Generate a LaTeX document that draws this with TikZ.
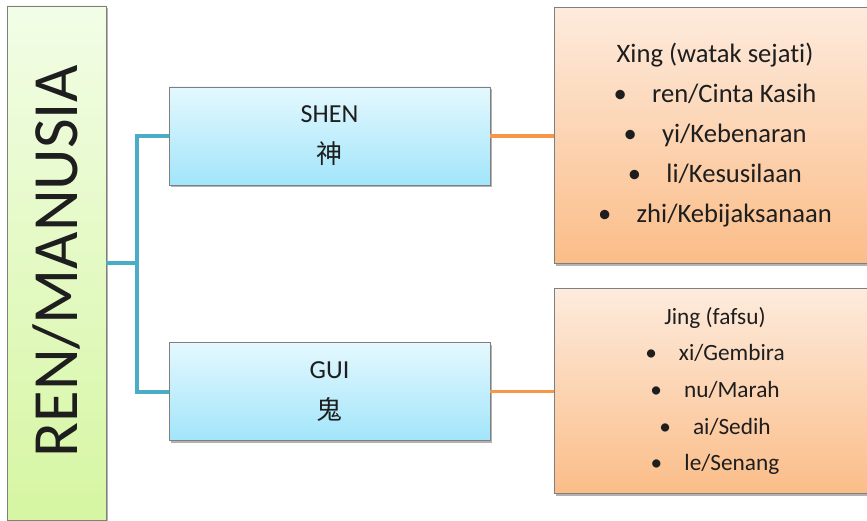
\documentclass[tikz,border=0pt]{standalone}
\usepackage{fontspec}
\setmainfont{Carlito}[Ligatures=NoCommon]
\newfontfamily\cjk{Noto Sans CJK SC}
\usetikzlibrary{shadows}

\definecolor{boxedge}{HTML}{7F7F7F}
\definecolor{txt}{HTML}{1E1E1E}
\definecolor{greentop}{HTML}{F2FDE6}
\definecolor{greenbot}{HTML}{D6F6A2}
\definecolor{bluetop}{HTML}{E4F8FE}
\definecolor{bluebot}{HTML}{A2E5FA}
\definecolor{orangetop}{HTML}{FDEBDD}
\definecolor{orangebot}{HTML}{FBBD88}
\definecolor{linkblue}{HTML}{4BACC6}
\definecolor{linkorange}{HTML}{F79646}

\begin{document}
\begin{tikzpicture}[x=1pt,y=-1pt,
  box/.style={draw=boxedge, line width=0.8pt, inner sep=0pt, text=txt,
    drop shadow={shadow xshift=2pt, shadow yshift=-2.5pt, opacity=0.3, fill=black}},
  greenbox/.style={box, top color=greentop, bottom color=greenbot},
  bluebox/.style={box, top color=bluetop, bottom color=bluebot,
    minimum width=321pt, minimum height=98pt, align=center,
    font=\fontsize{26}{41}\selectfont},
  orangebox/.style={box, top color=orangetop, bottom color=orangebot,
    minimum width=322pt, align=center},
  bluelink/.style={draw=linkblue, line width=4pt},
  orangelink/.style={draw=linkorange, line width=3.5pt},
]
\useasboundingbox (0,0) rectangle (867,521);

% left column
\node[greenbox, minimum width=99pt, minimum height=514pt] (ren) at (56.5,263) {};
\node[rotate=90, anchor=base, text=txt, font=\fontsize{64.5}{64.5}\selectfont]
  (renlabel) at (77,261.5) {REN/MANUSIA};

% middle column
\node[bluebox] (shen) at (329.5,136) {SHEN\\{\cjk 神}};
\node[bluebox] (gui) at (329.5,391.5) {GUI\\{\cjk 鬼}};

% right column
\node[orangebox, minimum height=256pt, font=\fontsize{26.6}{40}\selectfont]
  (xing) at (715,135.5)
  {Xing (watak sejati)\\
   •\hspace{0.95em}ren/Cinta Kasih\\
   •\hspace{0.95em}yi/Kebenaran\\
   •\hspace{0.95em}li/Kesusilaan\\
   •\hspace{0.95em}zhi/Kebijaksanaan};
\node[orangebox, minimum height=205pt, font=\fontsize{23.3}{36.7}\selectfont]
  (jing) at (715,391)
  {Jing (fafsu)\\
   •\hspace{0.95em}xi/Gembira\\
   •\hspace{0.95em}nu/Marah\\
   •\hspace{0.95em}ai/Sedih\\
   •\hspace{0.95em}le/Senang};

% connectors
\coordinate (fork) at ([xshift=31pt]ren.east);
\draw[bluelink] (ren.east) -- (fork);
\draw[bluelink, line join=miter] (shen.west) -| (fork) |- (gui.west);
\draw[orangelink] (shen.east) -- (shen.east -| xing.west);
\draw[orangelink] (gui.east) -- (gui.east -| jing.west);
\end{tikzpicture}
\end{document}
